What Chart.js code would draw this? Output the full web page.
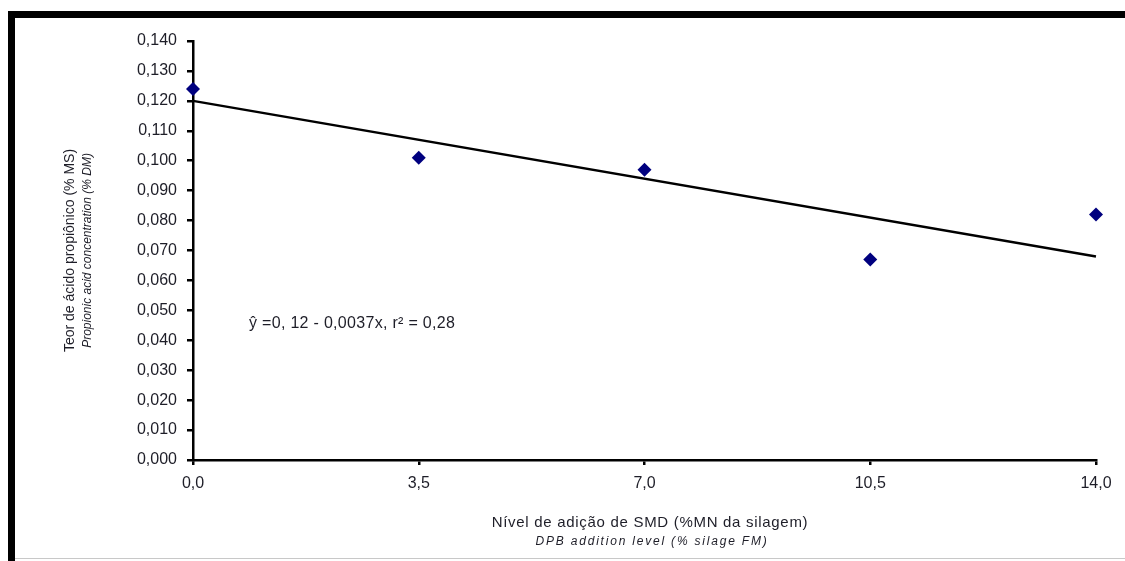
<!DOCTYPE html>
<html>
<head>
<meta charset="utf-8">
<script src="https://cdn.jsdelivr.net/npm/chart.js@4"></script>
<style>
html,body{margin:0;padding:0;background:#fff;}
#wrap{position:relative;width:1125px;height:561px;}
canvas{display:block;}
</style>
</head>
<body>
<div id="wrap"><canvas id="c" width="1125" height="561"></canvas></div>
<script>
// ---- data ----
const levels = [0, 3.5, 7, 10.5, 14];
const propionic = [0.124, 0.101, 0.097, 0.067, 0.082];
const trendX = [0, 14];
const trendY = [0.120, 0.068];
const xTickValues = [0, 3.5, 7, 10.5, 14];
const xTickLabels = ['0,0', '3,5', '7,0', '10,5', '14,0'];
const yTitle = ['Teor de ácido propiônico (% MS)', 'Propionic acid concentration (% DM)'];
const xTitle = ['Nível de adição de SMD (%MN da silagem)', 'DPB addition level (% silage FM)'];
const equationText = 'ŷ =0, 12 - 0,0037x, r² = 0,28';

const FONT = '"Liberation Sans", Arial, sans-serif';
const TXT = '#1e1e28';

const decor = {
  id: 'decor',
  beforeDraw(chart) {
    const ctx = chart.ctx;
    ctx.save();
    ctx.fillStyle = '#fff';
    ctx.fillRect(0, 0, chart.width, chart.height);
    ctx.fillStyle = '#000';
    ctx.fillRect(8, 11, chart.width - 8, 7);
    ctx.fillRect(8, 11, 7, chart.height - 11);
    ctx.fillStyle = '#c8c8c8';
    ctx.fillRect(15, 558, chart.width - 15, 1);
    ctx.restore();
  },
  afterDraw(chart) {
    const ctx = chart.ctx;
    const a = chart.chartArea;
    ctx.save();
    ctx.fillStyle = TXT;
    // y title (rotated)
    const cy = (a.top + a.bottom) / 2;
    ctx.translate(70, cy);
    ctx.rotate(-Math.PI / 2);
    ctx.textAlign = 'center';
    ctx.textBaseline = 'middle';
    ctx.font = '14px ' + FONT;
    ctx.fillText(yTitle[0], 0, 0);
    ctx.font = 'italic 12px ' + FONT;
    ctx.fillText(yTitle[1], 0, 18);
    ctx.restore();
    // x title
    ctx.save();
    ctx.fillStyle = TXT;
    ctx.textAlign = 'center';
    ctx.textBaseline = 'middle';
    ctx.font = '15px ' + FONT;
    ctx.letterSpacing = '0.7px';
    ctx.fillText(xTitle[0], 650, 523);
    ctx.font = 'italic 12px ' + FONT;
    ctx.letterSpacing = '1.8px';
    ctx.fillText(xTitle[1], 652, 542);
    // equation
    ctx.textAlign = 'left';
    ctx.font = '16px ' + FONT;
    ctx.letterSpacing = '0.3px';
    ctx.fillText(equationText, chart.scales.x.getPixelForValue(0) + 56, chart.scales.y.getPixelForValue(0.0455));
    ctx.letterSpacing = '0px';
    ctx.restore();
  }
};

new Chart(document.getElementById('c'), {
  type: 'scatter',
  data: {
    datasets: [
      {
        label: 'Propionic',
        data: levels.map((x, i) => ({x: x, y: propionic[i]})),
        pointStyle: 'rectRot',
        pointRadius: 7,
        pointBackgroundColor: '#00007f',
        pointBorderColor: '#00007f',
        borderWidth: 0,
        showLine: false,
        clip: false,
        order: 1
      },
      {
        label: 'Trend',
        data: trendX.map((x, i) => ({x: x, y: trendY[i]})),
        showLine: true,
        borderColor: '#000',
        borderWidth: 2.5,
        pointRadius: 0,
        clip: false,
        order: 2
      }
    ]
  },
  options: {
    responsive: false,
    devicePixelRatio: 1,
    animation: false,
    layout: {padding: {top: 41, right: 29, left: 0, bottom: 0}},
    plugins: {legend: {display: false}, tooltip: {enabled: false}},
    scales: {
      x: {
        type: 'linear',
        min: 0, max: 14,
        afterBuildTicks(s) { s.ticks = xTickValues.map(v => ({value: v})); },
        afterFit(s) { s.height = 101; },
        ticks: {
          color: TXT,
          font: {family: FONT, size: 16},
          padding: 9,
          maxRotation: 0,
          callback: (v) => { const i = xTickValues.indexOf(v); return i >= 0 ? xTickLabels[i] : ''; }
        },
        grid: {drawOnChartArea: false, drawTicks: true, color: '#000', lineWidth: 2.5, tickLength: 5},
        border: {color: '#000', width: 2.5}
      },
      y: {
        type: 'linear',
        min: 0, max: 0.14,
        afterFit(s) { s.width = 193; },
        ticks: {
          stepSize: 0.01,
          color: TXT,
          font: {family: FONT, size: 16},
          padding: 10,
          callback: (v) => v.toFixed(3).replace('.', ',')
        },
        grid: {drawOnChartArea: false, drawTicks: true, color: '#000', lineWidth: 2.5, tickLength: 6},
        border: {color: '#000', width: 2.5}
      }
    }
  },
  plugins: [decor]
});
</script>
</body>
</html>
